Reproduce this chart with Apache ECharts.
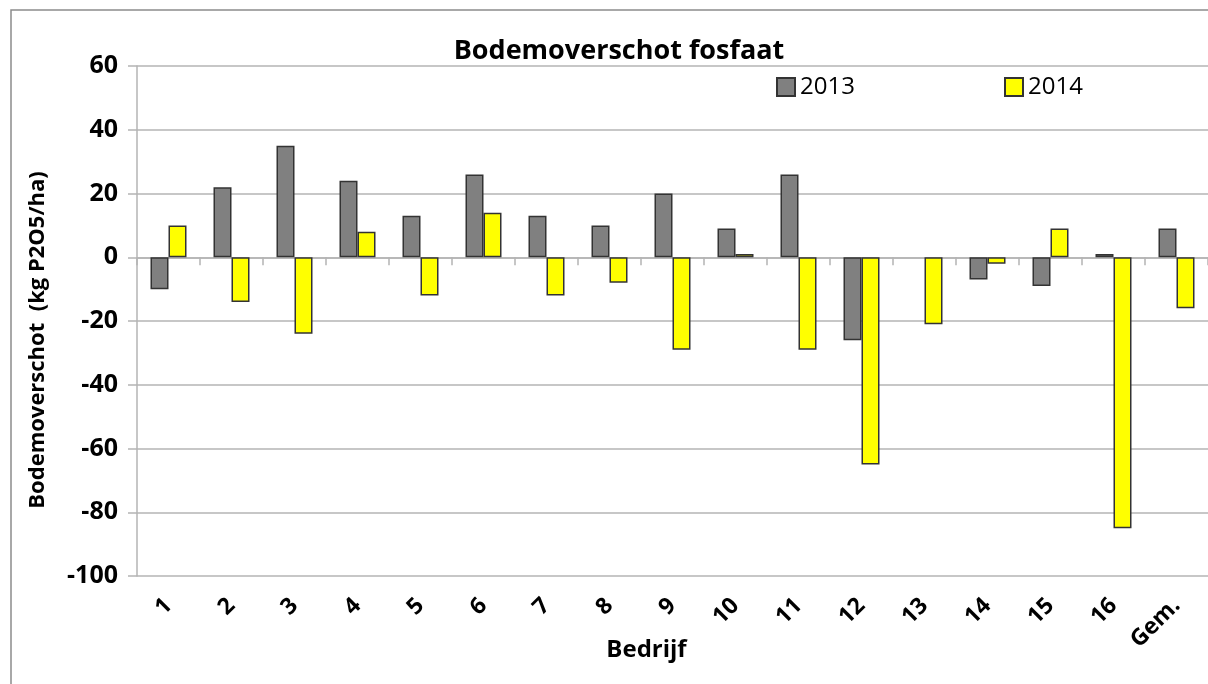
<!DOCTYPE html>
<html>
<head>
<meta charset="utf-8">
<script src="https://cdn.jsdelivr.net/npm/echarts@6/dist/echarts.min.js"></script>
<style>
  html, body { margin: 0; padding: 0; background: #fff; }
  #chart { width: 1208px; height: 684px; }
</style>
</head>
<body>
<div id="chart"></div>
<script>
const bedrijven = ['1', '2', '3', '4', '5', '6', '7', '8', '9', '10', '11', '12', '13', '14', '15', '16', 'Gem.'];
const jaar2013 = [-10, 22, 35, 24, 13, 26, 13, 10, 20, 9, 26, -26, null, -7, -9, 1, 9];
const jaar2014 = [10, -14, -24, 8, -12, 14, -12, -8, -29, 1, -29, -65, -21, -2, 9, -85, -16];
const yTicks = { min: -100, max: 60, interval: 20 };

const font = '"Open Sans", "Liberation Sans", sans-serif';
const gridColor = '#b4b4b4';
const edge = '#333333';

const chart = echarts.init(document.getElementById('chart'));

chart.setOption({
  animation: false,
  textStyle: { fontFamily: font, color: '#000' },
  graphic: [
    {
      type: 'rect',
      shape: { x: 11, y: 10, width: 1300, height: 800 },
      style: { fill: 'none', stroke: '#8c8c8c', lineWidth: 1.5 },
      silent: true
    }
  ],
  title: {
    text: 'Bodemoverschot fosfaat',
    left: 614,
    top: 33,
    textAlign: 'center',
    textStyle: { fontFamily: font, fontSize: 27, fontWeight: 'bold', color: '#000' }
  },
  legend: [
    {
      data: ['2013'],
      left: 771,
      top: 70,
      icon: 'rect',
      itemWidth: 18,
      itemHeight: 18,
      textStyle: { fontFamily: font, fontSize: 24, color: '#000' }
    },
    {
      data: ['2014'],
      left: 999,
      top: 70,
      icon: 'rect',
      itemWidth: 18,
      itemHeight: 18,
      textStyle: { fontFamily: font, fontSize: 24, color: '#000' }
    }
  ],
  grid: {
    left: 137,
    top: 66,
    width: 1071,
    height: 510,
    containLabel: false,
    outerBoundsMode: 'none'
  },
  xAxis: [
    {
      type: 'category',
      data: bedrijven,
      position: 'bottom',
      axisLine: { show: false, onZero: false },
      axisTick: { show: false },
      axisLabel: {
        rotate: 45,
        margin: 26,
        fontSize: 23,
        fontWeight: 'bold',
        fontFamily: font,
        color: '#000',
        interval: 0
      },
      name: 'Bedrijf',
      nameLocation: 'middle',
      nameGap: 62,
      nameMoveOverlap: false,
      nameTextStyle: {
        fontSize: 24,
        fontWeight: 'bold',
        fontFamily: font,
        color: '#000',
        padding: [0, 52, 0, 0]
      }
    },
    {
      type: 'category',
      data: bedrijven,
      position: 'bottom',
      axisLine: { show: true, onZero: true, lineStyle: { color: gridColor, width: 1.5 } },
      axisTick: { show: true, length: 8, lineStyle: { color: gridColor, width: 1.5 } },
      axisLabel: { show: false }
    }
  ],
  yAxis: {
    type: 'value',
    min: yTicks.min,
    max: yTicks.max,
    interval: yTicks.interval,
    axisLine: { show: true, lineStyle: { color: gridColor, width: 1.5 } },
    axisTick: { show: true, length: 9, lineStyle: { color: gridColor, width: 1.5 } },
    splitLine: { show: true, lineStyle: { color: gridColor, width: 1.5 } },
    axisLabel: {
      margin: 19,
      fontSize: 25,
      fontWeight: 'bold',
      fontFamily: font,
      color: '#000'
    },
    name: 'Bodemoverschot  (kg P2O5/ha)',
    nameLocation: 'middle',
    nameGap: 88,
    nameMoveOverlap: false,
    nameTextStyle: {
      fontSize: 22,
      fontWeight: 'bold',
      fontFamily: font,
      color: '#000',
      padding: [0, 38, 0, 0]
    }
  },
  series: [
    {
      name: '2013',
      type: 'bar',
      data: jaar2013,
      barWidth: 18,
      barGap: '0%',
      itemStyle: { color: '#808080', borderColor: edge, borderWidth: 1.5 }
    },
    {
      name: '2014',
      type: 'bar',
      data: jaar2014,
      barWidth: 18,
      barGap: '0%',
      itemStyle: { color: '#ffff00', borderColor: edge, borderWidth: 1.5 }
    }
  ]
});
</script>
</body>
</html>
